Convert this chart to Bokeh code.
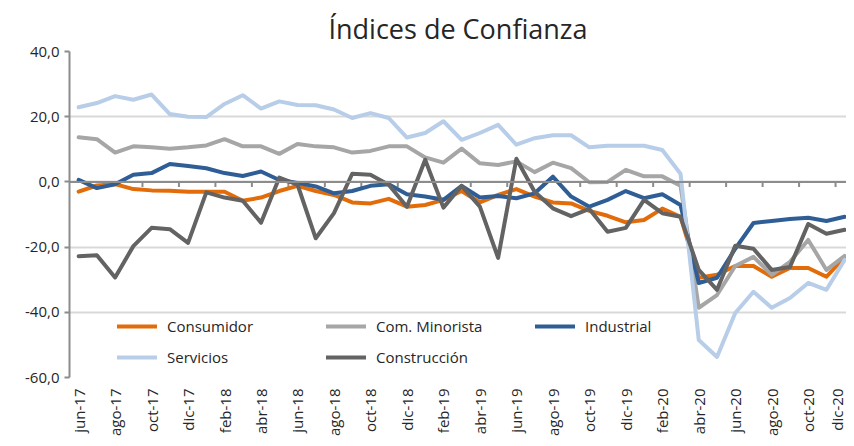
from bokeh.plotting import figure
from bokeh.models import Range1d, FixedTicker, Span, Legend, LegendItem
from bokeh.embed import file_html
from bokeh.resources import INLINE
import math

months = ["jun-17", "jul-17", "ago-17", "sep-17", "oct-17", "nov-17", "dic-17",
          "ene-18", "feb-18", "mar-18", "abr-18", "may-18", "jun-18", "jul-18",
          "ago-18", "sep-18", "oct-18", "nov-18", "dic-18", "ene-19", "feb-19",
          "mar-19", "abr-19", "may-19", "jun-19", "jul-19", "ago-19", "sep-19",
          "oct-19", "nov-19", "dic-19", "ene-20", "feb-20", "mar-20", "abr-20",
          "may-20", "jun-20", "jul-20", "ago-20", "sep-20", "oct-20", "nov-20",
          "dic-20"]

consumidor = [-3.0, -1.1, -0.7, -2.2, -2.6, -2.7, -3.0, -3.0, -3.0, -5.8, -4.8,
              -2.8, -1.2, -2.8, -4.0, -6.3, -6.6, -5.2, -7.6, -7.1, -5.5, -2.8,
              -6.3, -4.0, -2.2, -4.5, -6.3, -6.6, -8.9, -10.4, -12.4, -11.7,
              -8.2, -10.7, -29.4, -28.5, -25.8, -25.8, -29.1, -26.4, -26.4,
              -29.1, -23.0]
com_minorista = [13.7, 13.1, 9.0, 10.9, 10.6, 10.2, 10.6, 11.2, 13.1, 10.9, 10.9,
                 8.6, 11.6, 10.9, 10.6, 9.0, 9.5, 10.9, 10.9, 7.5, 5.9, 10.2, 5.7,
                 5.2, 6.3, 3.0, 5.9, 4.2, -0.1, 0.0, 3.7, 1.7, 1.7, -1.2, -38.6,
                 -34.7, -25.8, -23.0, -28.5, -24.5, -17.8, -27.0, -22.7]
industrial = [0.6, -1.9, -0.7, 2.2, 2.7, 5.5, 4.9, 4.2, 2.7, 1.8, 3.2, 0.6, -0.3,
              -1.4, -3.5, -2.8, -1.2, -0.7, -3.8, -4.5, -5.5, -1.2, -4.8, -4.3,
              -5.0, -3.5, 1.6, -4.5, -7.6, -5.5, -2.8, -5.0, -3.8, -7.1, -31.0,
              -29.4, -20.5, -12.6, -12.0, -11.4, -11.0, -12.0, -10.7]
servicios = [22.9, 24.2, 26.3, 25.2, 26.8, 20.8, 20.0, 19.9, 23.9, 26.6, 22.5,
             24.7, 23.6, 23.5, 22.2, 19.6, 21.1, 19.6, 13.6, 15.0, 18.6, 12.9,
             15.0, 17.5, 11.4, 13.4, 14.3, 14.3, 10.6, 11.1, 11.1, 11.1, 9.8, 2.5,
             -48.5, -53.7, -40.2, -33.7, -38.6, -35.6, -31.0, -33.1, -23.9]
construccion = [-22.8, -22.5, -29.3, -19.7, -14.1, -14.5, -18.7, -3.2, -4.8, -5.8,
                -12.5, 1.3, -0.8, -17.3, -9.6, 2.5, 2.2, -0.9, -7.6, 6.8, -7.9,
                -1.2, -7.6, -23.3, 7.1, -3.0, -8.1, -10.5, -8.3, -15.3, -14.1,
                -5.5, -9.6, -10.7, -27.0, -33.1, -19.6, -20.5, -27.0, -26.1,
                -12.9, -15.9, -14.7]

series_names = ["Consumidor", "Com. Minorista", "Industrial", "Servicios", "Construcción"]
series_values = [consumidor, com_minorista, industrial, servicios, construccion]
series_colors = ["#E36C0A", "#A6A6A6", "#2F5E96", "#B7CDE8", "#636363"]

y_ticks = [40, 20, 0, -20, -40, -60]
y_tick_labels = ["40,0", "20,0", "0,0", "-20,0", "-40,0", "-60,0"]

FONT = "Open Sans"
x = list(range(len(months)))

p = figure(width=846, height=438, output_backend="svg", toolbar_location=None,
           x_range=Range1d(-0.5, len(months) - 1 + 0.1), y_range=Range1d(-60, 40),
           min_border_left=69, min_border_right=0, min_border_top=51,
           min_border_bottom=40)
p.outline_line_color = None
p.background_fill_color = "white"

p.title.text = "Índices de Confianza"
p.title.align = "center"
p.title.text_font = FONT
p.title.text_font_size = "27px"
p.title.text_font_style = "normal"
p.title.text_color = "#262626"
p.title.standoff = 10

# grid
p.xgrid.grid_line_color = None
p.ygrid.grid_line_color = "#D9D9D9"
p.ygrid.grid_line_width = 2
p.yaxis.ticker = FixedTicker(ticks=y_ticks)
p.yaxis.major_label_overrides = {t: l for t, l in zip(y_ticks, y_tick_labels)}
p.yaxis.axis_line_color = "#8C8C8C"
p.yaxis.axis_line_width = 2
p.yaxis.major_tick_line_color = "#8C8C8C"
p.yaxis.major_tick_line_width = 2
p.yaxis.major_tick_out = 5
p.yaxis.major_tick_in = 0
p.yaxis.minor_tick_line_color = None
p.yaxis.major_label_text_font = FONT
p.yaxis.major_label_text_font_size = "15px"
p.yaxis.major_label_text_color = "#262626"
p.yaxis.major_label_standoff = 5

p.xaxis.ticker = FixedTicker(ticks=x[::2])
p.xaxis.major_label_overrides = {i: months[i] for i in x[::2]}
p.xaxis.major_label_orientation = math.pi / 2
p.xaxis.axis_line_color = None
p.xaxis.major_tick_line_color = None
p.xaxis.minor_tick_line_color = None
p.xaxis.major_label_text_font = FONT
p.xaxis.major_label_text_font_size = "15px"
p.xaxis.major_label_text_color = "#262626"
p.xaxis.major_label_standoff = 5

# zero line with category tick marks
p.add_layout(Span(location=0, dimension="width", line_color="#8C8C8C", line_width=2))
tick_x = [k + 0.5 for k in range(1, len(months) - 1, 2)]
p.segment(x0=tick_x, y0=[0] * len(tick_x), x1=tick_x, y1=[-1.6] * len(tick_x),
          line_color="#8C8C8C", line_width=2)

items = []
for name, vals, col in zip(series_names, series_values, series_colors):
    r = p.line(x, vals, line_color=col, line_width=4, line_join="round", line_cap="round")
    items.append(LegendItem(label=name, renderers=[r]))

legend = Legend(items=items, orientation="horizontal", ncols=3,
                location=(48, 9), label_text_font=FONT, label_text_font_size="15px",
                label_text_color="#262626", glyph_width=40, glyph_height=22,
                label_standoff=10, label_width=150, spacing=9, padding=0,
                background_fill_alpha=0, border_line_color=None)
p.add_layout(legend, "center")

open("out.html", "w").write(file_html(p, INLINE))
